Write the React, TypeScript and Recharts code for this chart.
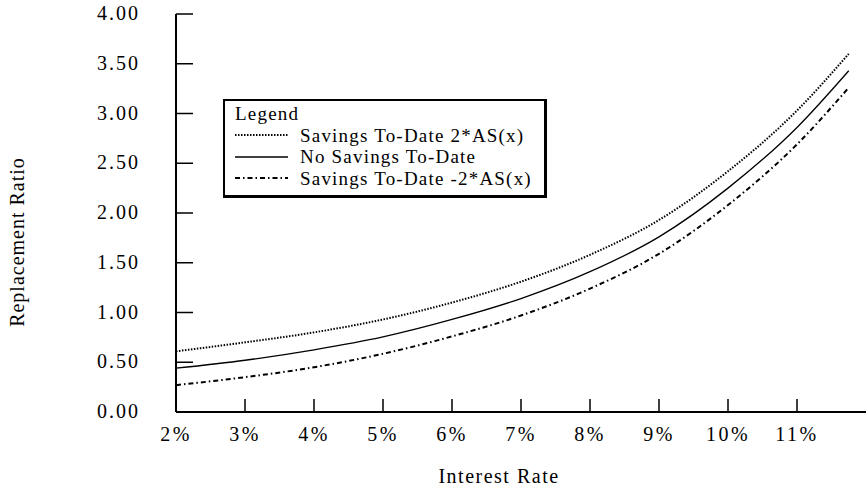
import { LineChart, Line, XAxis, YAxis, Legend } from 'recharts'

const rates = [2, 3, 4, 5, 6, 7, 8, 9, 10, 11, 11.75]
const savingsPlus = [0.61, 0.7, 0.8, 0.93, 1.1, 1.31, 1.58, 1.93, 2.42, 3.03, 3.6]
const noSavings = [0.44, 0.52, 0.625, 0.755, 0.93, 1.14, 1.41, 1.76, 2.25, 2.86, 3.43]
const savingsMinus = [0.27, 0.35, 0.45, 0.585, 0.76, 0.97, 1.24, 1.59, 2.08, 2.69, 3.26]

const xTicks = [2, 3, 4, 5, 6, 7, 8, 9, 10, 11]
const yTicks = [0, 0.5, 1, 1.5, 2, 2.5, 3, 3.5, 4]

const legendItems = [
  { label: 'Savings To-Date 2*AS(x)', dash: '1.5 1.5', width: 2 },
  { label: 'No Savings To-Date', dash: undefined, width: 1.3 },
  { label: 'Savings To-Date -2*AS(x)', dash: '5 3 1.5 3', width: 2 },
]

const data = rates.map((rate, i) => ({
  rate,
  plus: savingsPlus[i],
  none: noSavings[i],
  minus: savingsMinus[i],
}))

const serif = "'Liberation Serif', 'Times New Roman', serif"

function XTick(props: any) {
  const { x, y, payload } = props
  return (
    <g>
      <line x1={x} y1={y} x2={x} y2={y - 13} stroke="#000" strokeWidth={1.5} />
      <text x={x} y={y + 29} textAnchor="middle" fontSize={20} letterSpacing={2.5} fontFamily={serif} fill="#000">
        {payload.value}%
      </text>
    </g>
  )
}

function YTick(props: any) {
  const { x, y, payload } = props
  return (
    <g>
      <line x1={x} y1={y} x2={x + 17} y2={y} stroke="#000" strokeWidth={1.5} />
      <text x={x - 36} y={y + 6} textAnchor="end" fontSize={20} letterSpacing={2} fontFamily={serif} fill="#000">
        {Number(payload.value).toFixed(2)}
      </text>
    </g>
  )
}

function LegendBox() {
  return (
    <div
      style={{
        border: '2px solid #000',
        borderRightWidth: 3,
        borderBottomWidth: 3,
        background: '#fff',
        padding: '2px 12px 6px 10px',
        fontFamily: serif,
        fontSize: 19,
        letterSpacing: 1.2,
        lineHeight: '21.5px',
        whiteSpace: 'nowrap',
        color: '#000',
      }}
    >
      <div>Legend</div>
      {legendItems.map((item) => (
        <div key={item.label} style={{ display: 'flex', alignItems: 'center' }}>
          <svg width={53} height={10} style={{ marginRight: 12 }}>
            <line x1={0} y1={5} x2={53} y2={5} stroke="#000" strokeWidth={item.width} strokeDasharray={item.dash} />
          </svg>
          <span>{item.label}</span>
        </div>
      ))}
    </div>
  )
}

export default function App() {
  return (
    <div style={{ position: 'absolute', left: 0, top: 0, width: 868, height: 490, background: '#fff' }}>
      <LineChart width={868} height={490} data={data} margin={{ top: 14, right: 2, left: 0, bottom: 0 }}>
        <XAxis
          dataKey="rate"
          type="number"
          domain={[2, 12]}
          ticks={xTicks}
          tickSize={0}
          tickMargin={0}
          tickLine={false}
          axisLine={{ stroke: '#000', strokeWidth: 2 }}
          tick={<XTick />}
          height={78}
          label={({ viewBox }: any) => (
            <text
              x={viewBox.x + viewBox.width / 2 - 22}
              y={viewBox.y + 71}
              textAnchor="middle"
              fontSize={20}
              letterSpacing={1.5}
              fontFamily={serif}
              fill="#000"
            >
              Interest Rate
            </text>
          )}
        />
        <YAxis
          type="number"
          domain={[0, 4]}
          ticks={yTicks}
          tickSize={0}
          tickMargin={0}
          tickLine={false}
          axisLine={{ stroke: '#000', strokeWidth: 2 }}
          tick={<YTick />}
          width={176}
          label={({ viewBox }: any) => {
            const cy = viewBox.y + viewBox.height / 2 + 29
            return (
              <text
                x={17}
                y={cy}
                transform={`rotate(-90 17 ${cy})`}
                textAnchor="middle"
                dominantBaseline="central"
                fontSize={20}
                letterSpacing={1}
                fontFamily={serif}
                fill="#000"
              >
                Replacement Ratio
              </text>
            )
          }}
        />
        <Legend
          layout="vertical"
          align="center"
          verticalAlign="middle"
          wrapperStyle={{ left: 223, top: 99, width: 'auto' }}
          content={() => <LegendBox />}
        />
        <Line type="monotone" dataKey="plus" stroke="#000" strokeWidth={2} strokeDasharray="1.5 1.5" dot={false} isAnimationActive={false} />
        <Line type="monotone" dataKey="none" stroke="#000" strokeWidth={1.3} dot={false} isAnimationActive={false} />
        <Line type="monotone" dataKey="minus" stroke="#000" strokeWidth={2} strokeDasharray="5 3 1.5 3" dot={false} isAnimationActive={false} />
      </LineChart>
    </div>
  )
}
